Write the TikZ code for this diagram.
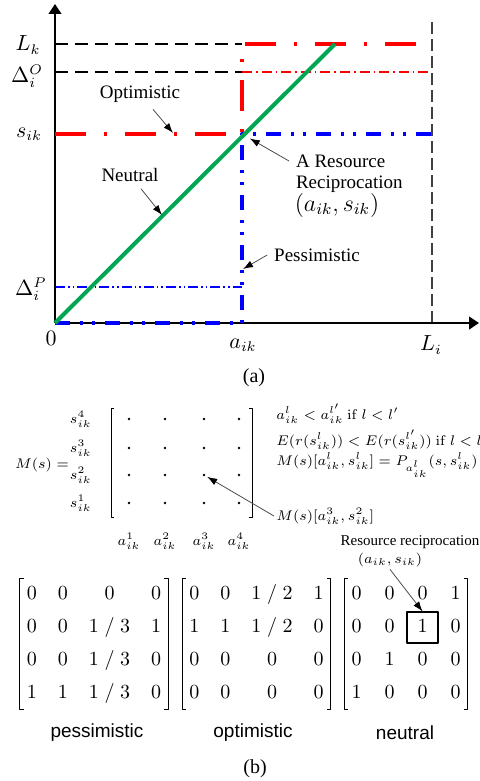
\documentclass[tikz,border=0pt]{standalone}
\usepackage[no-math]{fontspec}
\setmainfont{Liberation Serif}
\setsansfont{Liberation Sans}
\usetikzlibrary{arrows.meta,matrix}

\definecolor{lineRed}{RGB}{255,0,0}
\definecolor{lineBlue}{RGB}{0,0,255}
\definecolor{lineGreen}{RGB}{0,166,81}

\begin{document}
\begin{tikzpicture}[
		x=0.5pt, y=-0.5pt,
		line join=round,
		axis/.style={-{Triangle[length=5pt,width=6.5pt]}, line width=0.65pt},
		refline/.style={black, line width=0.6pt, dash pattern=on 6.5pt off 3.5pt},
		limline/.style={black!75, line width=0.8pt, dash pattern=on 6pt off 2.5pt},
		optline/.style={lineRed, line width=2pt, dash pattern=on 15.5pt off 9pt on 1.5pt off 9pt},
		optthin/.style={lineRed, line width=0.6pt, dash pattern=on 5pt off 2pt on 0.8pt off 2pt},
		pessline/.style={lineBlue, line width=2pt, dash pattern=on 7.5pt off 5pt on 1.5pt off 4.5pt on 1.5pt off 5pt},
		pessthin/.style={lineBlue, line width=0.6pt, dash pattern=on 5pt off 1.5pt on 0.8pt off 1.5pt on 0.8pt off 1.5pt},
		neutline/.style={lineGreen, line width=2pt},
		note/.style={-{Latex[length=5pt,width=3.5pt,color=black]}, black!70, line width=0.4pt},
		axlab/.style={font=\fontsize{10.5}{12}\selectfont, inner sep=0pt},
		txt/.style={font=\fontsize{9.5}{11}\selectfont},
		mlab/.style={font=\fontsize{7.4}{9}\selectfont, inner sep=1pt},
		idx/.style={font=\fontsize{7}{8}\selectfont, inner sep=0pt},
		sflab/.style={font=\sffamily\fontsize{9.5}{11}\selectfont},
		caplab/.style={font=\fontsize{10}{12}\selectfont},
		mat/.style={matrix of math nodes, row sep=7pt, inner xsep=3.5pt, inner ysep=3.25pt,
			nodes={inner sep=0pt, text height=7pt, text depth=2.5pt, font=\fontsize{10}{12}\selectfont}},
		brk/.style={line width=0.5pt},
		dotpt/.style={circle, fill, inner sep=0pt, minimum size=1.3pt}
	]
	
	\useasboundingbox (0,0) rectangle (479,781);
	
	% Parameters (pixel grid of the plot)
	\def\Ox{55}   % origin
	\def\Oy{323}
	\def\Ax{242}  % a_ik
	\def\Lx{432}  % L_i
	\def\Lky{44}  % L_k
	\def\Doy{72}  % Delta^O
	\def\Sy{134}  % s_ik
	\def\Dpy{287} % Delta^P
	
	% Reference levels
	\draw[refline] (\Ox,\Lky) -- (\Ax,\Lky);
	\draw[refline] (\Ox,\Doy) -- (\Ax,\Doy);
	\draw[limline] (\Lx,22) -- (\Lx,\Oy);
	\draw[optthin] (\Ax,\Doy) -- (\Lx,\Doy);
	\draw[pessthin] (\Ox,\Dpy) -- (\Ax,\Dpy);
	
	% Axes
	\draw[axis] (\Ox,\Oy) -- (479,\Oy);
	\draw[axis] (\Ox,\Oy) -- (\Ox,4);
	
	% Strategies
	\draw[optline] (\Ox,\Sy) -- (\Ax,\Sy) -- (\Ax,\Lky) -- (\Lx,\Lky);
	\draw[pessline] (\Ox,\Oy) -- (\Ax,\Oy) -- (\Ax,\Sy) -- (\Lx,\Sy);
	\draw[neutline] (\Ox,\Oy) -- (335,\Lky);
	
	% Axis labels
	\node[axlab] (lk) at (28,45) {$L_k$};
	\node[axlab] (dO) at (27,76) {$\Delta_i^O$};
	\node[axlab] (sik) at (29,134) {$s_{ik}$};
	\node[axlab] (dP) at (31,289) {$\Delta_i^P$};
	\node[axlab] (zero) at (51,338) {$0$};
	\node[axlab] (aik) at (243,345) {$a_{ik}$};
	\node[axlab] (li) at (431,345) {$L_i$};
	\node[caplab] (capa) at (254,378) {(a)};
	
	% Annotations
	\coordinate (optpt) at (173,133);
	\coordinate (neupt) at (162,215);
	\coordinate (cross) at (\Ax,\Sy);
	\coordinate (pesspt) at (243,269);
	
	\node[txt] (optlab) at (140,94) {Optimistic};
	\node[txt] (neulab) at (130,175) {Neutral};
	\node[txt, anchor=west] (recA) at (289,161) {A Resource};
	\node[txt, anchor=west] (recB) at (289,184) {Reciprocation};
	\node[axlab, font=\fontsize{11.5}{13}\selectfont] (recC) at (337,205) {$(a_{ik},s_{ik})$};
	\node[txt] (pesslab) at (317,255) {Pessimistic};
	
	\draw[note] (optlab) -- (optpt);
	\draw[note] (neulab) -- (neupt);
	\draw[note, shorten >=4.5pt] (recA.west) -- (cross);
	\draw[note] (pesslab.west) -- (pesspt);
	
	% Payoff matrix sketch
	\node[mlab] (mlhs) at (42,465) {$M(s) =$};
	\foreach \y [count=\j] in {503,475,448,419} {
		\node[idx, anchor=east] (s-\j) at (92,\y) {$s_{ik}^{\j}$};
	}
	\foreach \x [count=\i] in {129,165,204,239} {
		\node[idx] (a-\i) at (\x,541) {$a_{ik}^{\i}$};
		\foreach \y [count=\j] in {503,475,448,419} {
			\node[dotpt] (d-\i-\j) at (\x,\y) {};
		}
	}
	\draw[brk] (114,408) -- (111,408) -- (111,517) -- (114,517);
	\draw[brk] (249,408) -- (252,408) -- (252,517) -- (249,517);
	
	\node[mlab, anchor=west] (ord1) at (274,414) {$a_{ik}^{l} < a_{ik}^{l'}\ \mathrm{if}\ l < l'$};
	\node[mlab, anchor=west] (ord2) at (274,440) {$E(r(s_{ik}^{l})) < E(r(s_{ik}^{l'}))\ \mathrm{if}\ l < l'$};
	\node[mlab, anchor=west, font=\fontsize{6.9}{8}\selectfont] (mdef) at (274,465)
		{$M(s)[a_{ik}^{l},s_{ik}^{l}] = P_{\scriptscriptstyle a_{ik}^{l}}(s,s_{ik}^{l})$};
	\node[mlab, anchor=west, font=\fontsize{7}{8}\selectfont] (msel) at (274,516) {$M(s)[a_{ik}^{3},s_{ik}^{2}]$};
	\draw[note, shorten >=1pt] (msel.west) -- (d-3-2);
	
	% Strategy matrices
	\matrix (pess) [mat, column sep=10.5pt] at (94,644) {
		0 & 0 & 0 & 0 \\
		0 & 0 & 1\;/\;3 & 1 \\
		0 & 0 & 1\;/\;3 & 0 \\
		1 & 1 & 1\;/\;3 & 0 \\
	};
	\matrix (opti) [mat, column sep=10.5pt] at (256.5,644) {
		0 & 0 & 1\;/\;2 & 1 \\
		1 & 1 & 1\;/\;2 & 0 \\
		0 & 0 & 0 & 0 \\
		0 & 0 & 0 & 0 \\
	};
	\matrix (neut) [mat, column sep=11.5pt] at (406,644) {
		0 & 0 & 0 & 1 \\
		0 & 0 & 1 & 0 \\
		0 & 1 & 0 & 0 \\
		1 & 0 & 0 & 0 \\
	};
	\foreach \m in {pess,opti,neut} {
		\draw[brk] ([xshift=2pt]\m.north west) -- (\m.north west) -- (\m.south west) -- ([xshift=2pt]\m.south west);
		\draw[brk] ([xshift=-2pt]\m.north east) -- (\m.north east) -- (\m.south east) -- ([xshift=-2pt]\m.south east);
	}
	\node[draw, line width=0.6pt, minimum size=15.5pt, inner sep=0pt] (box) at (neut-2-3) {};
	
	\node[font=\fontsize{7.5}{9}\selectfont] (rrtxt) at (410,542) {Resource reciprocation};
	\node[font=\fontsize{7.5}{9}\selectfont, inner sep=1pt] (rrsm) at (390,560) {$(a_{ik},s_{ik})$};
	\draw[note] (rrsm.south) -- (box.north);
	
	\node[sflab] (pessname) at (97,733) {pessimistic};
	\node[sflab] (optiname) at (253,733) {optimistic};
	\node[sflab] (neutname) at (405,733) {neutral};
	\node[caplab] (capb) at (255,769) {(b)};
	
\end{tikzpicture}
\end{document}
